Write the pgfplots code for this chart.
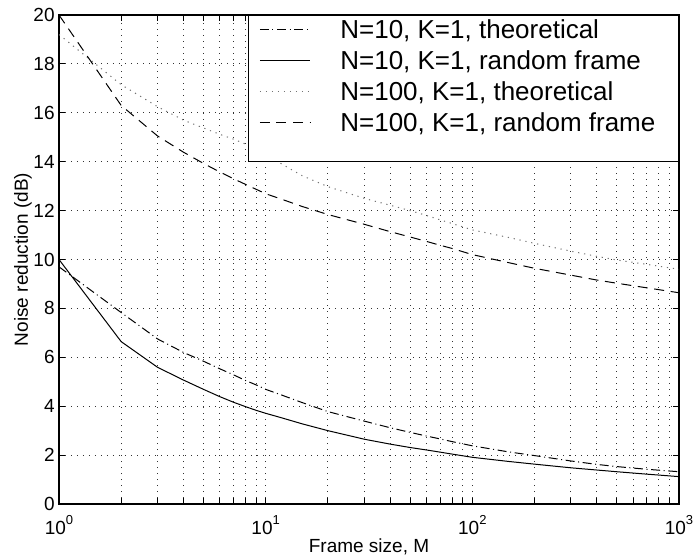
\documentclass[border=0pt]{standalone}
\usepackage{fontspec}
\setmainfont{Liberation Sans}
\usepackage{pgfplots}
\pgfplotsset{compat=1.18}
\newcommand{\ex}[1]{10\raisebox{5pt}{\fontsize{6.5}{7}\selectfont #1}}
\begin{document}
\begin{tikzpicture}
\begin{axis}[
  at={(0,0)}, anchor=south west,
  scale only axis, width=310pt, height=244.5pt,
  xmode=log, log basis x=10,
  xmin=1, xmax=1000, ymin=0, ymax=20,
  xtick={1,10,100,1000},
  minor xtick={2,3,4,5,6,7,8,9,20,30,40,50,60,70,80,90,200,300,400,500,600,700,800,900},
  xticklabels={\ex{0},\ex{1},\ex{2},\ex{3}},
  ytick={0,2,...,20},
  minor y tick num=0,
  tick align=inside, tick pos=both,
  major tick length=3pt, minor tick length=3pt,
  tick style={black, line width=0.5pt},
  axis line style={line width=0.6pt},
  grid=both,
  major grid style={black!80, line width=0.5pt, dash pattern=on 0.5pt off 2.5pt},
  minor grid style={black!80, line width=0.5pt, dash pattern=on 0.5pt off 2.5pt},
  /pgf/number format/assume math mode=true,
  ticklabel style={font=\fontsize{9.5}{11}\selectfont},
  yticklabel style={anchor=east, inner sep=0pt, xshift=-2pt},
  xticklabel style={anchor=base, inner sep=0pt, yshift=-15pt},
  xlabel={Frame size, M},
  ylabel={Noise reduction (dB)},
  label style={font=\fontsize{9.5}{11}\selectfont},
  xlabel style={at={(axis description cs:0.5,0)}, anchor=base, yshift=-24.35pt},
  ylabel style={at={(axis description cs:-0.05,0.5)}, anchor=base},
  legend style={at={(1,1)}, anchor=north east, draw=black, line width=0.6pt, fill=white,
    inner xsep=5.5pt, inner ysep=5.5pt, row sep=0pt, column sep=15pt,
    font=\fontsize{13}{15.5}\selectfont,
    cells={anchor=base west},
    nodes={inner sep=0pt, text height=6.15pt, text depth=9.35pt}},
  legend image code/.code={\draw[#1] (0pt,4.6pt) -- (25pt,4.6pt);},
]
\addplot[black, line width=0.5pt, dash pattern=on 4.5pt off 1.8pt on 0.5pt off 1.8pt] coordinates {
(1,9.7) (2,7.83) (3,6.75) (4,6.2) (5,5.84) (6,5.53) (7,5.28) (8,5.05) (9,4.87) (10,4.69)
(12,4.45) (15,4.15) (20,3.78) (30,3.39) (40,3.12) (50,2.93) (60,2.78) (70,2.66) (80,2.55)
(100,2.38) (150,2.13) (200,1.98) (300,1.76) (400,1.62) (500,1.53) (700,1.42) (1000,1.32)};
\addlegendentry{N=10, K=1, theoretical}
\addplot[black, line width=0.5pt, solid] coordinates {
(1,10) (2,6.64) (3,5.59) (4,5.07) (5,4.69) (6,4.39) (7,4.16) (8,3.98) (9,3.83) (10,3.71)
(12,3.52) (15,3.28) (20,3.0) (30,2.65) (40,2.45) (50,2.31) (60,2.21) (70,2.12) (80,2.04)
(100,1.91) (150,1.74) (200,1.63) (300,1.48) (400,1.39) (500,1.32) (700,1.22) (1000,1.12)};
\addlegendentry{N=10, K=1, random frame}
\addplot[black!55, line width=0.5pt, dash pattern=on 0.6pt off 2.4pt] coordinates {
(1,19.2) (2,17.15) (3,16.25) (4,15.7) (5,15.38) (6,15.12) (7,14.92) (8,14.72) (9,14.5) (10,14.3)
(12,13.9) (15,13.43) (20,12.98) (30,12.5) (40,12.22) (50,12.0) (60,11.8) (70,11.62) (80,11.47)
(100,11.21) (150,10.9) (200,10.66) (300,10.34) (400,10.13) (500,9.98) (700,9.8) (1000,9.6)};
\addlegendentry{N=100, K=1, theoretical}
\addplot[black, line width=0.5pt, dash pattern=on 5pt off 3.3pt] coordinates {
(1,20) (2,16.3) (3,15.05) (4,14.39) (5,13.93) (6,13.58) (7,13.3) (8,13.07) (9,12.87) (10,12.69)
(12,12.46) (15,12.17) (20,11.84) (30,11.44) (40,11.14) (50,10.92) (60,10.74) (70,10.58) (80,10.45)
(100,10.2) (150,9.87) (200,9.64) (300,9.36) (400,9.16) (500,9.03) (700,8.84) (1000,8.64)};
\addlegendentry{N=100, K=1, random frame\rule{6pt}{0pt}}
\end{axis}
\pgfresetboundingbox
\useasboundingbox (-29.5pt,-26pt) rectangle (318pt,252pt);
\end{tikzpicture}
\end{document}
